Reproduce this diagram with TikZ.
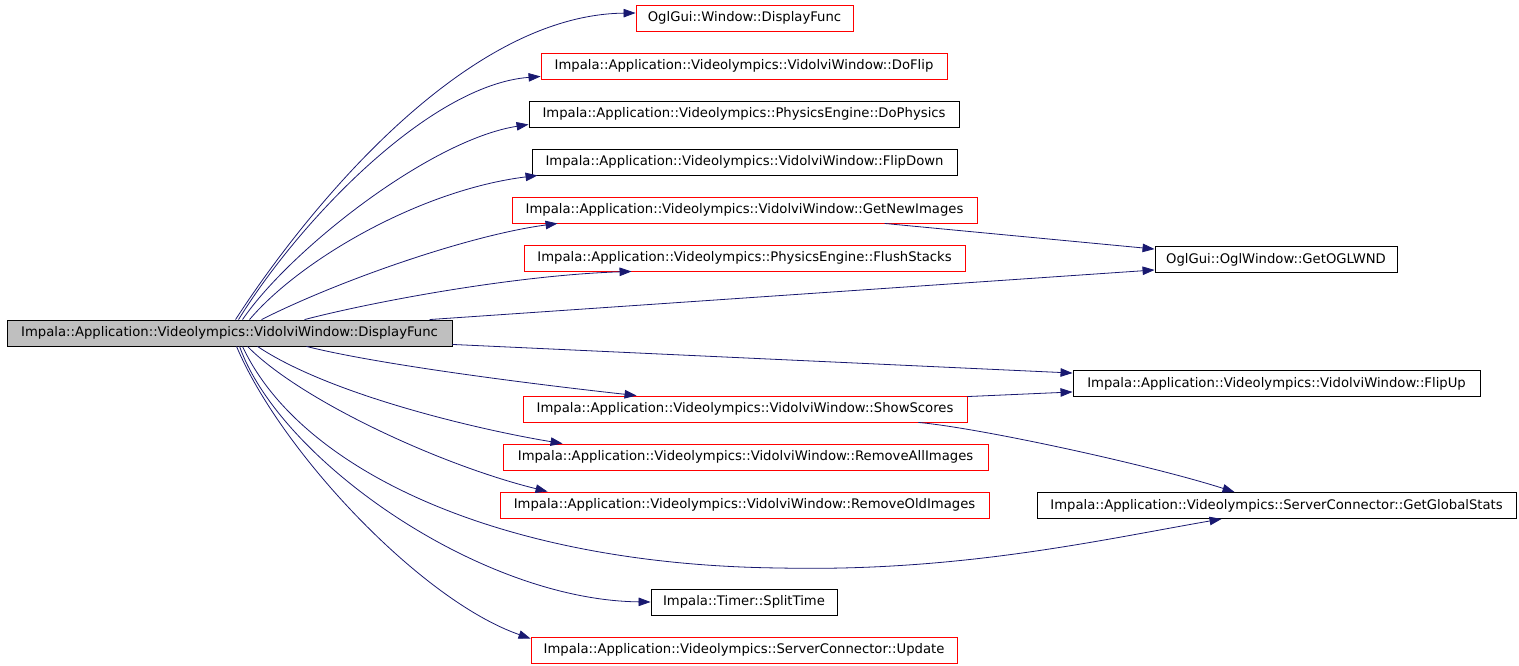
\documentclass[tikz,border=0pt]{standalone}
\usepackage{fontspec}
\setmainfont{DejaVu Sans}
\usetikzlibrary{arrows.meta,calc}
\definecolor{edgec}{HTML}{191970}
\definecolor{mainfill}{HTML}{BFBFBF}
\begin{document}
\begin{tikzpicture}[x=1pt,y=-1pt,
  box/.style={draw=black,line width=0.9pt,minimum height=26pt,inner sep=0pt,
    font=\fontsize{13.2}{15}\selectfont,anchor=center},
  redbox/.style={box,draw=red},
  mainbox/.style={box,fill=mainfill},
  call/.style={draw=edgec,line width=0.8pt,-{Triangle[length=12pt,width=8.5pt]}}]
\useasboundingbox (0,0) rectangle (1519,666);
\fill[white] (0,0) rectangle (1519,666);
% nodes
\node[mainbox,minimum width=445pt] (main) at (229.5,333) {Impala::Application::Videolympics::VidolviWindow::DisplayFunc};
\node[redbox,minimum width=217pt] (win) at (744.5,18) {OglGui::Window::DisplayFunc};
\node[redbox,minimum width=406pt] (doflip) at (744,66) {Impala::Application::Videolympics::VidolviWindow::DoFlip};
\node[box,minimum width=430pt] (dophys) at (744,114) {Impala::Application::Videolympics::PhysicsEngine::DoPhysics};
\node[box,minimum width=425pt] (flipdown) at (744.5,162) {Impala::Application::Videolympics::VidolviWindow::FlipDown};
\node[redbox,minimum width=465pt] (getnew) at (744.5,210) {Impala::Application::Videolympics::VidolviWindow::GetNewImages};
\node[redbox,minimum width=441pt] (flush) at (744.5,258) {Impala::Application::Videolympics::PhysicsEngine::FlushStacks};
\node[box,minimum width=242pt] (oglwnd) at (1276,259.5) {OglGui::OglWindow::GetOGLWND};
\node[box,minimum width=407pt] (flipup) at (1276.5,383.5) {Impala::Application::Videolympics::VidolviWindow::FlipUp};
\node[redbox,minimum width=444pt] (show) at (745,409) {Impala::Application::Videolympics::VidolviWindow::ShowScores};
\node[redbox,minimum width=485pt] (remall) at (745.5,457) {Impala::Application::Videolympics::VidolviWindow::RemoveAllImages};
\node[redbox,minimum width=489pt] (remold) at (744.5,505) {Impala::Application::Videolympics::VidolviWindow::RemoveOldImages};
\node[box,minimum width=479pt] (global) at (1276.5,505.5) {Impala::Application::Videolympics::ServerConnector::GetGlobalStats};
\node[box,minimum width=186pt] (split) at (744,602) {Impala::Timer::SplitTime};
\node[redbox,minimum width=426pt] (update) at (744,650) {Impala::Application::Videolympics::ServerConnector::Update};
% edges: upper fan
\draw[call] ($(main.north west)+(229,0)$) .. controls (300,220) and (460,15) .. ($(win.west)+(0,-5)$);
\draw[call] ($(main.north west)+(232,0)$) .. controls (300,220) and (430,85) .. ($(doflip.south west)+(0,-3)$);
\draw[call] ($(main.north west)+(236,0)$) .. controls (290,250) and (430,140) .. ($(dophys.south west)+(0,-3)$);
\draw[call] ($(main.north west)+(243,0)$) .. controls (300,260) and (420,190) .. ($(flipdown.south west)+(6,0)$);
\draw[call] ($(main.north west)+(255,0)$) .. controls (340,280) and (470,235) .. ($(getnew.south west)+(46,0)$);
\draw[call] ($(main.north west)+(298,0)$) .. controls (380,300) and (520,275) .. ($(flush.south west)+(108,0)$);
\draw[call] ($(main.north west)+(423,0)$) -- ($(oglwnd.south west)+(0,-3)$);
\draw[call] ($(getnew.south west)+(373,0)$) -- ($(oglwnd.north west)+(0,3)$);
% right side
\draw[call] ($(main.south east)+(0,-2)$) -- ($(flipup.north west)+(0,3)$);
\draw[call] ($(show.north east)+(0,1)$) -- ($(flipup.south west)+(0,-5)$);
\draw[call] ($(show.south east)+(-49,0)$) .. controls (980,428) and (1150,465) .. ($(global.north west)+(198,0)$);
% lower fan
\draw[call] ($(main.south west)+(300,0)$) .. controls (380,365) and (540,385) .. ($(show.north west)+(114,0)$);
\draw[call] ($(main.south west)+(251,0)$) .. controls (330,395) and (480,430) .. ($(remall.north west)+(60,0)$);
\draw[call] ($(main.south west)+(241,0)$) .. controls (300,400) and (440,465) .. ($(remold.north west)+(48,0)$);
\draw[call] ($(main.south west)+(236,0)$) .. controls (300,470) and (500,565) .. (780,568) .. controls (960,572) and (1100,540) .. ($(global.south west)+(185,0)$);
\draw[call] ($(main.south west)+(233,0)$) .. controls (280,460) and (480,600) .. (split.west);
\draw[call] ($(main.south west)+(230,0)$) .. controls (280,450) and (420,600) .. ($(update.north west)+(0,2)$);
\end{tikzpicture}
\end{document}
